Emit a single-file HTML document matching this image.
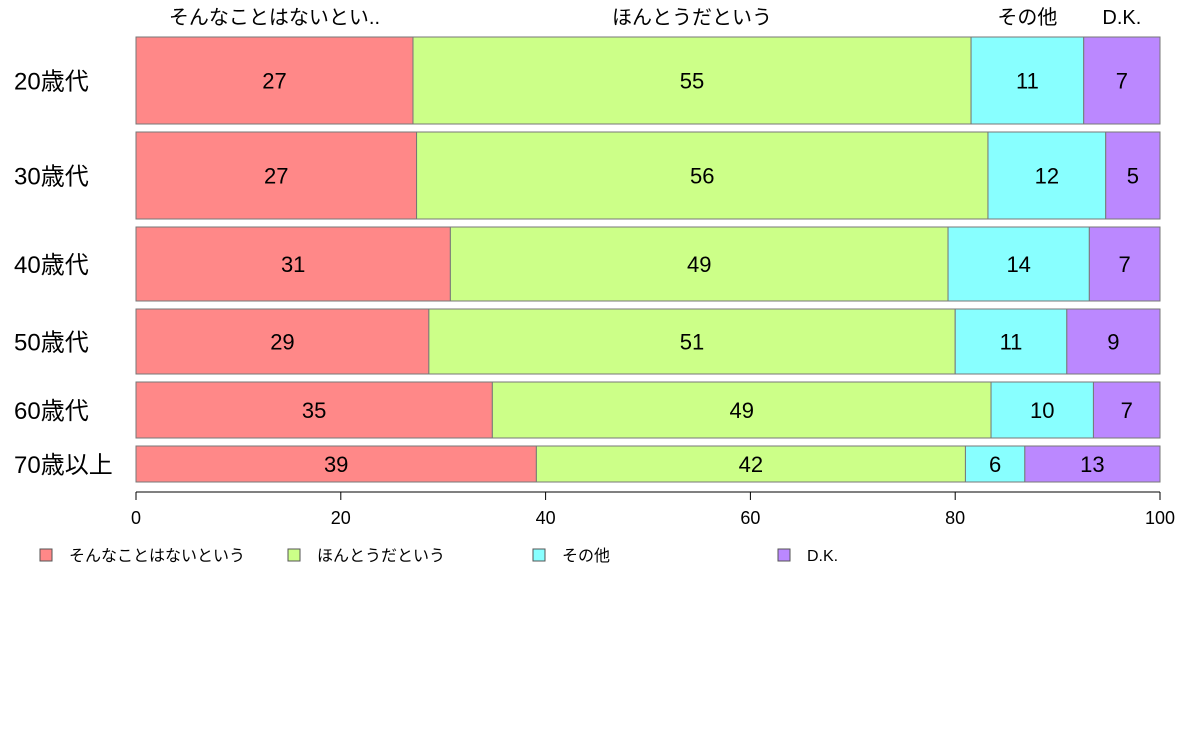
<!DOCTYPE html>
<html><head><meta charset="utf-8"><style>
body{margin:0;background:#fff;font-family:"Liberation Sans","Noto Sans CJK JP",sans-serif;}
svg text{font-family:"Liberation Sans","Noto Sans CJK JP",sans-serif;}
</style></head><body>
<svg id="chart" width="1188" height="736" xmlns="http://www.w3.org/2000/svg"></svg>
<script>
const categories=["20歳代","30歳代","40歳代","50歳代","60歳代","70歳以上"];
const seriesNames=["そんなことはないという","ほんとうだという","その他","D.K."];
const topLabels=["そんなことはないとい..","ほんとうだという","その他","D.K."];
const rowWeights=[87,87,74,65,56,36];
const s1=[27.05,27.4,30.7,28.6,34.8,39.1];
const s2=[54.5,55.8,48.6,51.4,48.7,41.9];
const s3=[11.0,11.5,13.8,10.9,10.0,5.8];
const s4=[7.45,5.3,6.9,9.1,6.5,13.2];
const xTicks=[0,20,40,60,80,100];
const colors=["#ff8888","#ccff88","#88ffff","#bb88ff"];
const svg=document.getElementById('chart');
const NS="http://www.w3.org/2000/svg";
const X0=136,X1=1160,Y0=37,Y1=482,GAP=8;
const x=v=>X0+(X1-X0)*v/100;
const totalW=rowWeights.reduce((a,b)=>a+b,0);
const avail=(Y1-Y0)-GAP*(categories.length-1);
function mk(t,a){const e=document.createElementNS(NS,t);for(const k in a)e.setAttribute(k,a[k]);svg.appendChild(e);return e;}
const series=[s1,s2,s3,s4];
let y=Y0;
categories.forEach((c,i)=>{
  const h=avail*rowWeights[i]/totalW;
  let cum=0;
  series.forEach((s,j)=>{
    const r=mk('rect',{x:x(cum),y:y,width:x(cum+s[i])-x(cum),height:h,fill:colors[j],stroke:'#777','stroke-width':1});
    
    
    const t=mk('text',{x:(x(cum)+x(cum+s[i]))/2,y:y+h/2+8,'text-anchor':'middle','font-size':22,fill:'#000'});
    t.textContent=Math.round(s[i]);
    
    
    if(i===0){
      const tl=mk('text',{x:(x(cum)+x(cum+s[i]))/2,y:24,'text-anchor':'middle','font-size':20});
      tl.textContent=topLabels[j];
      
      
    }
    cum+=s[i];
  });
  const yl=mk('text',{x:14,y:y+h/2+9,'font-size':24});
  yl.textContent=c;
  
  
  y+=h+GAP;
});
const ax=mk('line',{x1:X0,x2:X1,y1:492,y2:492,stroke:'#000'});


xTicks.forEach(v=>{
  const l=mk('line',{x1:x(v),x2:x(v),y1:492,y2:500,stroke:'#000'});
  
  
  const t=mk('text',{x:x(v),y:524,'text-anchor':'middle','font-size':18});
  t.textContent=v;
  
  
});
const legX=[40,288,533,778];
seriesNames.forEach((n,j)=>{
  const r=mk('rect',{x:legX[j],y:549,width:12,height:12,fill:colors[j],stroke:'#555'});
  
  
  const t=mk('text',{x:legX[j]+29,y:561,'font-size':16});
  t.textContent=n;
  
  
});
</script>
</body></html>
